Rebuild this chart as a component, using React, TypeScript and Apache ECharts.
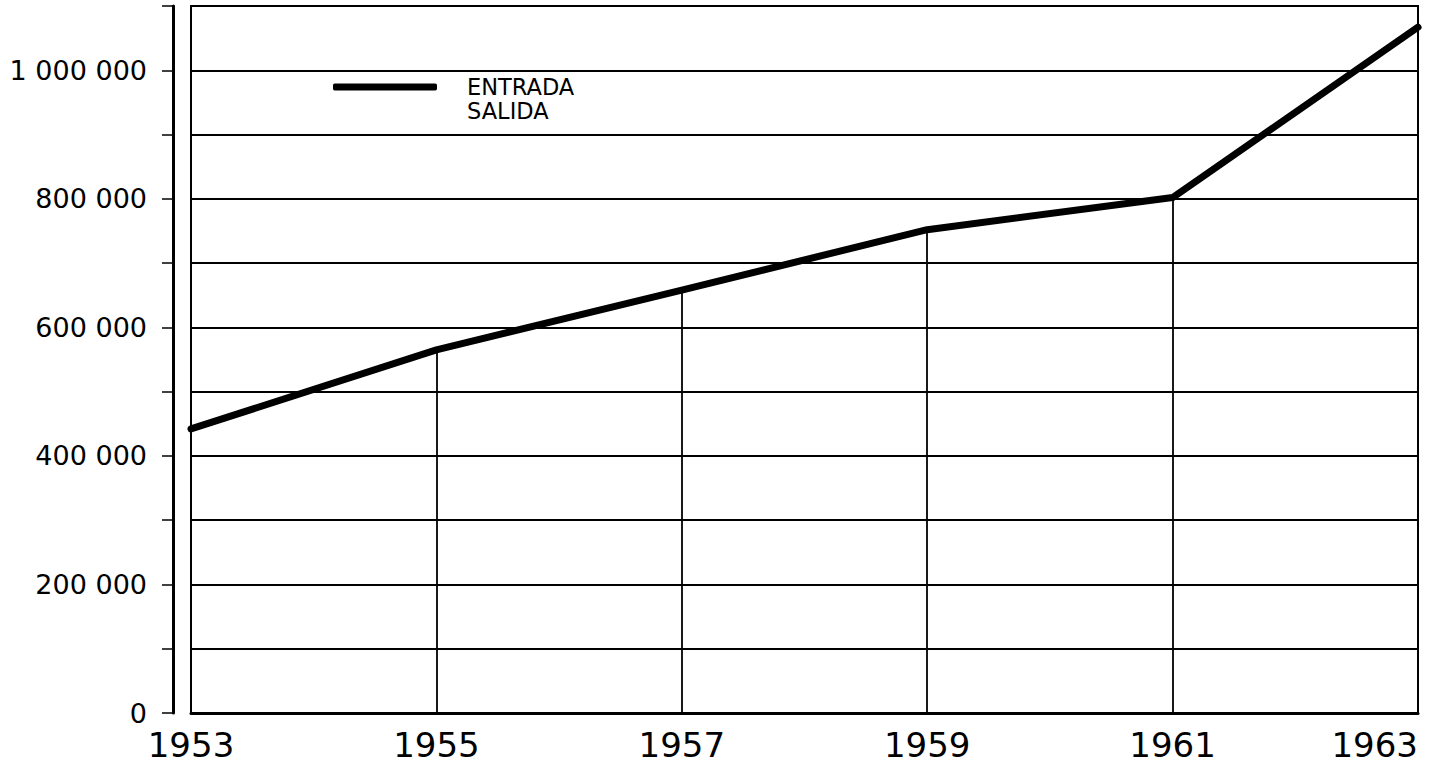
import React, { useEffect, useRef } from "react";
import * as echarts from "echarts";

const years = [1953, 1955, 1957, 1959, 1961, 1963];
const entrada = [442000, 565000, 658000, 752000, 802000, 1067000];
const salida: number[][] = [];
const dropLineYears = [1955, 1957, 1959, 1961];
const seriesNames = ["ENTRADA", "SALIDA"];
const yMax = 1100000;
const yStep = 100000;
const yLabelStep = 200000;

function fmtThousands(v: number): string {
  const s = String(Math.round(v));
  return s.replace(/\B(?=(\d{3})+(?!\d))/g, " ");
}

export default function App() {
  const ref = useRef<HTMLDivElement>(null);
  useEffect(() => {
    if (!ref.current) return;
    const chart = echarts.init(ref.current, undefined, { renderer: "svg" });
    const font = "DejaVu Sans";
    const points = years.map((y, i) => [y, entrada[i]]);
    const drops = dropLineYears.map((yr) => {
      const v = entrada[years.indexOf(yr)];
      return [{ coord: [yr, 0] }, { coord: [yr, v] }];
    });
    chart.setOption({
      animation: false,
      backgroundColor: "#fff",
      grid: {
        left: 191,
        right: 13,
        top: 6,
        bottom: 51,
        show: true,
        borderColor: "#000",
        borderWidth: 2,
        containLabel: false,
      },
      legend: {
        orient: "vertical",
        left: 333,
        top: 75,
        padding: 0,
        itemWidth: 104,
        itemHeight: 7,
        itemGap: 0,
        selectedMode: false,
        data: [
          { name: seriesNames[0], icon: "roundRect" },
          { name: seriesNames[1], icon: "none" },
        ],
        textStyle: {
          fontFamily: font,
          fontSize: 22.5,
          lineHeight: 24,
          color: "#000",
          padding: [0, 0, 0, 25],
        },
      },
      xAxis: {
        type: "value",
        min: years[0],
        max: years[years.length - 1],
        interval: 1,
        axisLine: { show: true, lineStyle: { color: "#000", width: 3 } },
        axisTick: { show: false },
        splitLine: { show: false },
        axisLabel: {
          color: "#000",
          fontFamily: font,
          fontSize: 34,
          margin: 15,
          alignMaxLabel: "right",
          formatter: (v: number) => ((v - years[0]) % 2 === 0 ? String(v) : ""),
        },
      },
      yAxis: {
        type: "value",
        min: 0,
        max: yMax,
        interval: yStep,
        offset: 18,
        axisLine: { show: true, lineStyle: { color: "#000", width: 3 } },
        axisTick: { show: true, inside: false, length: 11, lineStyle: { color: "#000", width: 1.5 } },
        splitLine: { show: true, lineStyle: { color: "#000", width: 1.8 } },
        axisLabel: {
          color: "#000",
          fontFamily: font,
          fontSize: 27,
          margin: 26,
          formatter: (v: number) => (v % yLabelStep === 0 && v <= 1000000 ? fmtThousands(v) : ""),
        },
      },
      series: [
        {
          name: seriesNames[0],
          type: "line",
          data: points,
          showSymbol: false,
          symbol: "none",
          color: "#000",
          lineStyle: { color: "#000", width: 7, cap: "round", join: "round" },
          markLine: {
            silent: true,
            symbol: "none",
            label: { show: false },
            lineStyle: { color: "#000", width: 1.8, type: "solid" },
            data: drops,
          },
          z: 3,
        },
        {
          name: seriesNames[1],
          type: "line",
          data: salida,
          showSymbol: false,
          color: "#000",
          lineStyle: { color: "#000", width: 7 },
        },
      ],
    });
    return () => chart.dispose();
  }, []);
  return (
    <div
      ref={ref}
      style={{ position: "absolute", left: 0, top: 0, width: 1431, height: 764 }}
    />
  );
}
